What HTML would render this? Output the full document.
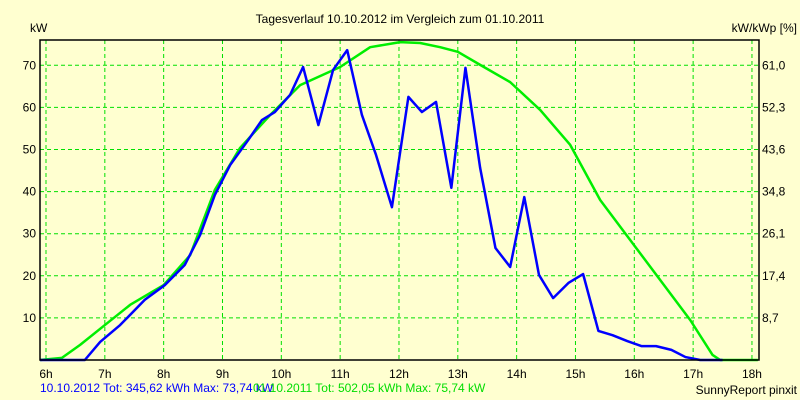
<!DOCTYPE html>
<html><head><meta charset="utf-8"><style>
html,body{margin:0;padding:0;background:#ffffd0;}
svg{display:block;font-family:"Liberation Sans",sans-serif;}
</style></head><body>
<svg id="chart" width="800" height="400">
<rect x="0" y="0" width="800" height="400" fill="#ffffd0"/>
<text x="400" y="23" font-size="12" text-anchor="middle">Tagesverlauf 10.10.2012 im Vergleich zum 01.10.2011</text>
<text x="30" y="32" font-size="12">kW</text>
<text x="797" y="32" font-size="12" text-anchor="end">kW/kWp [%]</text>
<g id="grid"></g>
<g id="series"></g>
<rect x="40" y="40" width="719" height="320" fill="none" stroke="#000" stroke-width="1.5"/>
<g id="labels"></g>
<text x="40" y="392" font-size="12" fill="#0000ff">10.10.2012 Tot: 345,62 kWh Max: 73,74 kW</text>
<text x="253" y="392" font-size="12" fill="#00dd00">01.10.2011 Tot: 502,05 kWh Max: 75,74 kW</text>
<text x="797" y="394" font-size="12" text-anchor="end">SunnyReport pinxit</text>
</svg>
<script>
const hourTicks=[6,7,8,9,10,11,12,13,14,15,16,17,18];
const kwTicks=[10,20,30,40,50,60,70];
const pctLabels=["8,7","17,4","26,1","34,8","43,6","52,3","61,0"];
const blueHours=[5.9,6.66,6.92,7.26,7.68,8.02,8.36,8.62,8.87,9.13,9.44,9.67,9.89,10.15,10.37,10.63,10.88,11.12,11.37,11.61,11.88,12.16,12.39,12.63,12.89,13.13,13.38,13.64,13.89,14.13,14.38,14.62,14.88,15.13,15.39,15.63,15.88,16.12,16.37,16.63,16.87,17.12,17.5];
const blueKw=[0,0,4.3,8.3,14.3,17.8,22.6,29.7,39.2,46.3,52.3,57.0,58.9,63.0,69.6,55.8,68.9,73.6,58.2,48.7,36.3,62.5,58.9,61.3,40.9,69.4,45.6,26.6,22.1,38.7,20.2,14.7,18.3,20.4,6.9,5.9,4.5,3.3,3.3,2.4,0.7,0,0];
const greenHours=[5.9,6.27,6.58,7.0,7.43,8.0,8.45,8.87,9.3,9.81,10.32,11.0,11.51,12.02,12.36,12.7,13.0,13.38,13.89,14.4,14.91,15.42,15.93,16.44,16.95,17.33,17.46,18.1];
const greenKw=[0,0.5,3.6,8.3,13.1,17.8,24.9,40.4,50.4,58.2,65.3,69.6,74.3,75.5,75.3,74.3,73.2,70.1,66.0,59.4,51.1,38.0,28.5,19.0,9.5,1.2,0,0];
const xS=h=>46+(h-6)*58.83;
const yS=v=>360-v*4.21;
const NS="http://www.w3.org/2000/svg";
const grid=document.getElementById('grid'),labels=document.getElementById('labels'),series=document.getElementById('series');
hourTicks.forEach(h=>{
  const l=document.createElementNS(NS,'line');
  
  
  l.setAttribute('x1',xS(h));l.setAttribute('x2',xS(h));l.setAttribute('y1',40);l.setAttribute('y2',360);
  l.setAttribute('stroke','#00e000');l.setAttribute('stroke-dasharray','4,3');
  grid.appendChild(l);
  const t=document.createElementNS(NS,'text');
  
  
  t.setAttribute('x',xS(h));t.setAttribute('y',378);t.setAttribute('font-size','12');t.setAttribute('text-anchor','middle');
  t.textContent=h+'h';labels.appendChild(t);
});
kwTicks.forEach((v,i)=>{
  const l=document.createElementNS(NS,'line');
  
  
  l.setAttribute('x1',40);l.setAttribute('x2',759);l.setAttribute('y1',yS(v));l.setAttribute('y2',yS(v));
  l.setAttribute('stroke','#00e000');l.setAttribute('stroke-dasharray','4,3');
  grid.appendChild(l);
  const t=document.createElementNS(NS,'text');
  
  
  t.setAttribute('x',36);t.setAttribute('y',yS(v)+4);t.setAttribute('font-size','12');t.setAttribute('text-anchor','end');
  t.textContent=v;labels.appendChild(t);
  const r=document.createElementNS(NS,'text');
  
  
  r.setAttribute('x',762);r.setAttribute('y',yS(v)+4);r.setAttribute('font-size','12');
  r.textContent=pctLabels[i];labels.appendChild(r);
});
function line(hs,vs,color,name){
  const p=document.createElementNS(NS,'polyline');
  
  
  p.setAttribute('points',hs.map((h,i)=>Math.max(40,Math.min(759,xS(h)))+','+yS(vs[i])).join(' '));
  p.setAttribute('fill','none');p.setAttribute('stroke',color);p.setAttribute('stroke-width','2.5');p.setAttribute('stroke-linejoin','round');
  series.appendChild(p);
}
line(greenHours,greenKw,'#00ee00','series-2011');
line(blueHours,blueKw,'#0000ff','series-2012');
</script>
</body></html>
